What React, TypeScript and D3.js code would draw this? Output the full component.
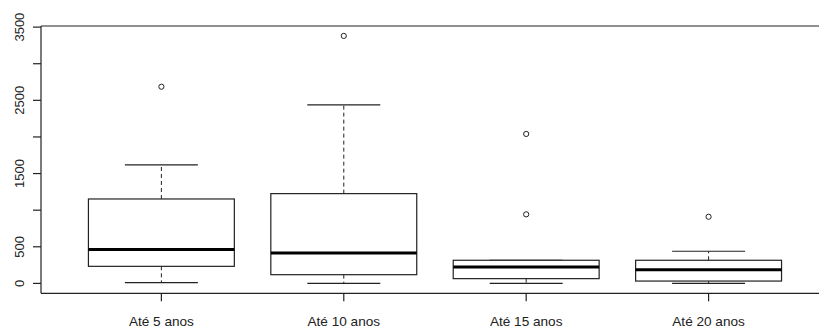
import React from "react";
import * as d3 from "d3";

const categories = ["Até 5 anos", "Até 10 anos", "Até 15 anos", "Até 20 anos"];
const whiskerLow = [10, 0, 0, 0];
const q1 = [233, 119, 65, 32];
const median = [462, 416, 224, 188];
const q3 = [1153, 1226, 316, 316];
const whiskerHigh = [1620, 2439, 316, 439];
const outliers: number[][] = [[2686], [3380], [2041, 943], [910]];
const yTicks = [0, 500, 1000, 1500, 2000, 2500, 3000, 3500];
const yLabelTicks = [0, 500, 1500, 2500, 3500];

const W = 819;
const H = 329;

export default function App() {
  const n = categories.length;
  const plotLeft = 41;
  const plotTop = 26;
  const plotBottom = 293.3;
  const xr = n;
  const xMin = 0.5 - 0.04 * xr;
  const xMax = n + 0.5 + 0.04 * xr;
  const unit = 182.4;
  const x = d3.scaleLinear().domain([xMin, xMax]).range([plotLeft, plotLeft + (xMax - xMin) * unit]);
  const allVals = [...whiskerLow, ...whiskerHigh, ...outliers.flat()];
  const lo = d3.min(allVals)!;
  const hi = d3.max(allVals)!;
  const pad = 0.04 * (hi - lo);
  const y = d3.scaleLinear().domain([lo - pad, hi + pad]).range([plotBottom, plotTop]);

  const stroke = "#222";
  const boxHalf = 0.4;
  const capHalf = 0.2;

  return (
    <svg width={W} height={H} style={{ position: "absolute", left: 0, top: 0, background: "#fff" }}
      fontFamily="'Liberation Sans', Arial, sans-serif">
      <rect x={0} y={0} width={W} height={H} fill="#fff" />
      <line x1={plotLeft} x2={W} y1={plotTop} y2={plotTop} stroke={stroke} strokeWidth={1.2} />
      <line x1={plotLeft} x2={W} y1={plotBottom} y2={plotBottom} stroke={stroke} strokeWidth={1.2} />
      <line x1={plotLeft} x2={plotLeft} y1={plotTop} y2={plotBottom} stroke={stroke} strokeWidth={1.2} />
      {yTicks.map((t) => (
        <line key={"yt" + t} x1={plotLeft - 8} x2={plotLeft} y1={y(t)} y2={y(t)} stroke={stroke} strokeWidth={1.2} />
      ))}
      {yLabelTicks.map((t) => (
        <text key={"yl" + t} transform={`translate(24,${y(t)}) rotate(-90)`} textAnchor="middle"
          fontSize={13} fill="#222">{t}</text>
      ))}
      {categories.map((c, i) => {
        const cx = x(i + 1);
        return (
          <g key={c}>
            <line x1={cx} x2={cx} y1={plotBottom} y2={plotBottom + 8} stroke={stroke} strokeWidth={1.2} />
            <text x={cx} y={325.5} textAnchor="middle" fontSize={13.6} fill="#222">{c}</text>
            <line x1={cx} x2={cx} y1={y(q3[i])} y2={y(whiskerHigh[i])} stroke={stroke} strokeDasharray="4,3" />
            <line x1={cx} x2={cx} y1={y(q1[i])} y2={y(whiskerLow[i])} stroke={stroke} strokeDasharray="4,3" />
            <line x1={x(i + 1 - capHalf)} x2={x(i + 1 + capHalf)} y1={y(whiskerHigh[i])} y2={y(whiskerHigh[i])} stroke={stroke} strokeWidth={1.2} />
            <line x1={x(i + 1 - capHalf)} x2={x(i + 1 + capHalf)} y1={y(whiskerLow[i])} y2={y(whiskerLow[i])} stroke={stroke} strokeWidth={1.2} />
            <rect x={x(i + 1 - boxHalf)} y={y(q3[i])} width={x(i + 1 + boxHalf) - x(i + 1 - boxHalf)}
              height={y(q1[i]) - y(q3[i])} fill="#fff" stroke={stroke} strokeWidth={1.2} />
            <line x1={x(i + 1 - boxHalf)} x2={x(i + 1 + boxHalf)} y1={y(median[i])} y2={y(median[i])} stroke="#000" strokeWidth={3} />
            {outliers[i].map((o, j) => (
              <circle key={j} cx={cx} cy={y(o)} r={2.6} fill="none" stroke={stroke} strokeWidth={1} />
            ))}
          </g>
        );
      })}
    </svg>
  );
}
